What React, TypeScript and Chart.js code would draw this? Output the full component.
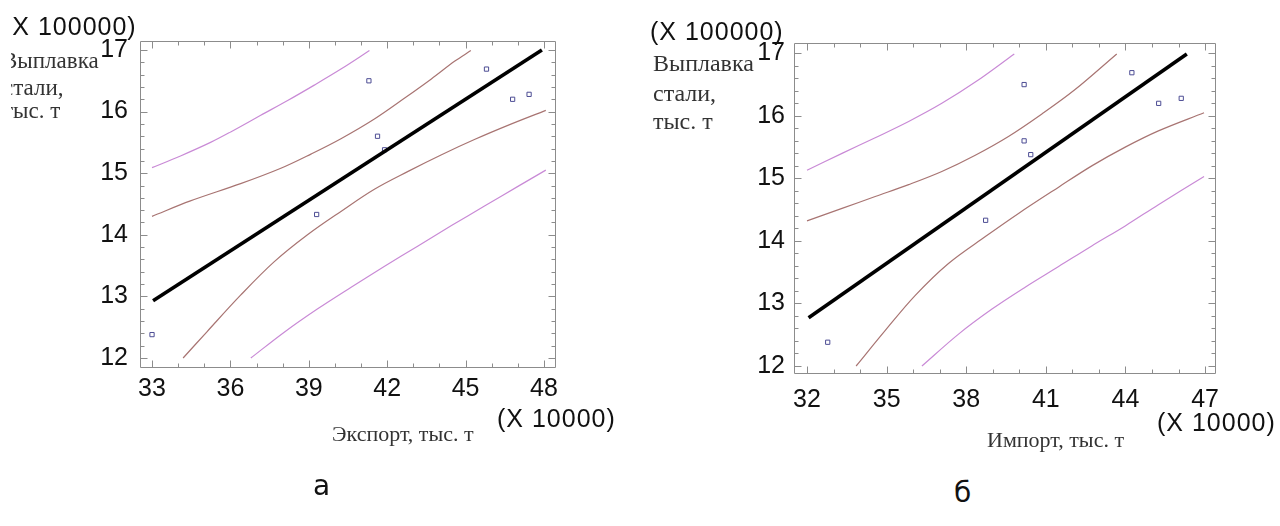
import React, { useEffect, useRef } from "react";
import { Chart, registerables } from "chart.js";

Chart.register(...registerables);

// Steel output, ×100000 t (same observations in both panels)
const steelOutput = [12.38, 14.33, 16.5, 15.6, 15.38, 16.69, 16.2, 16.28];
// Export, ×10000 t
const exportVolume = [33.0, 39.3, 41.3, 41.63, 41.9, 45.8, 46.8, 47.43];
// Import, ×10000 t
const importVolume = [32.78, 38.73, 40.18, 40.18, 40.43, 44.24, 45.25, 46.1];

// Fitted regression lines
const exportFitX = [33.04, 47.92];
const exportFitY = [12.93, 17.0];
const importFitX = [32.06, 46.31];
const importFitY = [12.77, 16.99];

// Panel "а": prediction limits (outer) and confidence limits (inner)
const exportPredUpperX = [33, 34.09, 35.24, 36.01, 37.16, 38.19, 39.21, 40.23, 41.32];
const exportPredUpperY = [15.09, 15.28, 15.5, 15.67, 15.94, 16.18, 16.43, 16.69, 16.99];
const exportConfUpperX = [33, 34.47, 36.39, 37.93, 39.08, 40.23, 41.51, 42.67, 43.69, 44.59, 45.2];
const exportConfUpperY = [14.3, 14.55, 14.83, 15.08, 15.31, 15.56, 15.88, 16.22, 16.53, 16.82, 16.99];
const exportConfLowerX = [34.19, 35.11, 36.39, 37.67, 38.95, 40.23, 41.51, 42.8, 44.08, 45.36, 46.64, 48.07];
const exportConfLowerY = [12.0, 12.43, 13.02, 13.56, 14.0, 14.38, 14.74, 15.03, 15.3, 15.55, 15.78, 16.02];
const exportPredLowerX = [36.78, 38.06, 39.34, 40.62, 41.9, 43.18, 44.46, 45.74, 47.02, 48.07];
const exportPredLowerY = [12.0, 12.42, 12.8, 13.15, 13.49, 13.82, 14.15, 14.47, 14.79, 15.05];

// Panel "б": prediction limits (outer) and confidence limits (inner)
const importPredUpperX = [32, 33.32, 34.57, 35.83, 37.08, 38.34, 39.81];
const importPredUpperY = [15.13, 15.4, 15.65, 15.91, 16.2, 16.54, 16.99];
const importConfUpperX = [32, 33.32, 34.57, 35.83, 37.08, 38.34, 39.59, 40.85, 42.1, 43.67];
const importConfUpperY = [14.32, 14.52, 14.71, 14.9, 15.11, 15.37, 15.67, 16.03, 16.42, 16.99];
const importConfLowerX = [33.85, 34.95, 36.08, 37.33, 38.72, 39.97, 41.48, 42.73, 43.99, 45.24, 46.96];
const importConfLowerY = [12.0, 12.57, 13.13, 13.64, 14.07, 14.44, 14.86, 15.2, 15.5, 15.76, 16.05];
const importPredLowerX = [36.33, 37.71, 38.97, 40.22, 41.48, 42.73, 43.99, 45.24, 46.96];
const importPredLowerY = [12.0, 12.51, 12.91, 13.26, 13.59, 13.92, 14.24, 14.58, 15.03];

// Axis tick labels and ranges
const exportTicks = [33, 36, 39, 42, 45, 48];
const importTicks = [32, 35, 38, 41, 44, 47];
const steelTicks = [12, 13, 14, 15, 16, 17];
const exportRange = [32.54, 48.46];
const importRange = [31.51, 47.41];
const steelRangeA = [11.838, 17.146];
const steelRangeB = [11.872, 17.165];

const PURPLE = "#c98ad6";
const BROWN = "#a87472";
const MARKER = "#4d4d94";
const SANS = '"Liberation Sans", Arial, sans-serif';
const SERIF = '"Liberation Serif", "Times New Roman", serif';
const CAPTION = '"DejaVu Sans", Verdana, sans-serif';

const zip = (xs: number[], ys: number[]) => xs.map((x, i) => ({ x, y: ys[i] }));

function steps(from: number, to: number, step: number) {
  const out: number[] = [];
  for (let i = 0; from + i * step <= to + 1e-9; i++) out.push(+(from + i * step).toFixed(3));
  return out;
}

// Box frame with inward major/minor tick marks on all four sides
const framePlugin = {
  id: "frame",
  beforeDatasetsDraw(chart: any, _args: any, o: any) {
    const { ctx, chartArea: a } = chart;
    const sx = chart.scales.x;
    const sy = chart.scales.y;
    const L = Math.round(a.left) + 0.5;
    const R = Math.round(a.right) - 0.5;
    const T = Math.round(a.top) + 0.5;
    const B = Math.round(a.bottom) - 0.5;
    ctx.save();
    ctx.strokeStyle = "#8c8c8c";
    ctx.lineWidth = 1;
    ctx.beginPath();
    ctx.rect(L, T, R - L, B - T);
    const isMajor = (list: number[], v: number) => list.some((m) => Math.abs(m - v) < 1e-6);
    for (const v of o.xMinor) {
      const px = Math.round(sx.getPixelForValue(v)) + 0.5;
      const len = isMajor(o.xMajor, v) ? 7 : 4;
      ctx.moveTo(px, B);
      ctx.lineTo(px, B - len);
      ctx.moveTo(px, T);
      ctx.lineTo(px, T + len);
    }
    for (const v of o.yMinor) {
      const py = Math.round(sy.getPixelForValue(v)) + 0.5;
      const len = isMajor(o.yMajor, v) ? 7 : 4;
      ctx.moveTo(L, py);
      ctx.lineTo(L + len, py);
      ctx.moveTo(R, py);
      ctx.lineTo(R - len, py);
    }
    ctx.stroke();
    ctx.restore();
  },
};

type Panel = {
  xs: number[];
  fitX: number[];
  fitY: number[];
  bands: { x: number[]; y: number[]; color: string }[];
  xRange: number[];
  yRange: number[];
  xTicks: number[];
  padding: { left: number; top: number; right: number; bottom: number };
  yWidth: number;
  xLabelPad: number;
  yLabelPad: number;
};

function makeChart(canvas: HTMLCanvasElement, p: Panel) {
  const band = (b: { x: number[]; y: number[]; color: string }) => ({
    data: zip(b.x, b.y),
    showLine: true,
    borderColor: b.color,
    borderWidth: 1.2,
    pointRadius: 0,
    tension: 0.35,
    fill: false,
  });
  const tickFont = { family: SANS, size: 25 };
  return new Chart(canvas, {
    type: "scatter",
    data: {
      datasets: [
        {
          data: zip(p.fitX, p.fitY),
          showLine: true,
          borderColor: "#000",
          borderWidth: 3.6,
          pointRadius: 0,
          fill: false,
        },
        {
          data: zip(p.xs, steelOutput),
          pointStyle: "rect",
          pointRadius: 3,
          borderWidth: 1,
          borderColor: MARKER,
          backgroundColor: "rgba(255,255,255,0)",
          showLine: false,
        },
        ...p.bands.map(band),
      ] as any,
    },
    options: {
      animation: false,
      responsive: false,
      events: [],
      layout: { padding: p.padding },
      plugins: {
        legend: { display: false },
        tooltip: { enabled: false },
        frame: {
          xMajor: p.xTicks,
          xMinor: steps(p.xTicks[0], p.xTicks[p.xTicks.length - 1], 1),
          yMajor: steelTicks,
          yMinor: steps(steelTicks[0], steelTicks[steelTicks.length - 1], 0.2),
        },
      } as any,
      scales: {
        x: {
          type: "linear",
          min: p.xRange[0],
          max: p.xRange[1],
          grid: { display: false, drawTicks: false },
          border: { display: false },
          afterBuildTicks: (s: any) => {
            s.ticks = p.xTicks.map((value) => ({ value }));
          },
          afterFit: (s: any) => {
            s.height = 40;
          },
          ticks: {
            padding: p.xLabelPad,
            color: "#111",
            font: tickFont,
            autoSkip: false,
            maxRotation: 0,
            callback: (v: any) => String(v),
          },
        },
        y: {
          type: "linear",
          min: p.yRange[0],
          max: p.yRange[1],
          grid: { display: false, drawTicks: false },
          border: { display: false },
          afterBuildTicks: (s: any) => {
            s.ticks = steelTicks.map((value) => ({ value }));
          },
          afterFit: (s: any) => {
            s.width = p.yWidth;
          },
          ticks: {
            padding: p.yLabelPad,
            color: "#111",
            font: tickFont,
            autoSkip: false,
            callback: (v: any) => String(v),
          },
        },
      } as any,
    },
    plugins: [framePlugin as any],
  });
}

function Txt(props: {
  x: number;
  baseline: number;
  size: number;
  family: string;
  color?: string;
  spacing?: number;
  children: React.ReactNode;
}) {
  const k = props.family === SERIF ? 0.8375 : 0.8465;
  return (
    <div
      style={{
        position: "absolute",
        left: props.x,
        top: props.baseline - k * props.size,
        fontFamily: props.family,
        fontSize: props.size,
        lineHeight: `${props.size}px`,
        whiteSpace: "nowrap",
        color: props.color || "#111",
        letterSpacing: props.spacing ? `${props.spacing}px` : undefined,
      }}
    >
      {props.children}
    </div>
  );
}

export default function App() {
  const leftRef = useRef<HTMLCanvasElement>(null);
  const rightRef = useRef<HTMLCanvasElement>(null);

  useEffect(() => {
    const a = makeChart(leftRef.current!, {
      xs: exportVolume,
      fitX: exportFitX,
      fitY: exportFitY,
      bands: [
        { x: exportPredUpperX, y: exportPredUpperY, color: PURPLE },
        { x: exportConfUpperX, y: exportConfUpperY, color: BROWN },
        { x: exportConfLowerX, y: exportConfLowerY, color: BROWN },
        { x: exportPredLowerX, y: exportPredLowerY, color: PURPLE },
      ],
      xRange: exportRange,
      yRange: steelRangeA,
      xTicks: exportTicks,
      padding: { left: 0, top: 41, right: 64, bottom: 62 },
      yWidth: 140,
      xLabelPad: 6,
      yLabelPad: 12,
    });
    const b = makeChart(rightRef.current!, {
      xs: importVolume,
      fitX: importFitX,
      fitY: importFitY,
      bands: [
        { x: importPredUpperX, y: importPredUpperY, color: PURPLE },
        { x: importConfUpperX, y: importConfUpperY, color: BROWN },
        { x: importConfLowerX, y: importConfLowerY, color: BROWN },
        { x: importPredLowerX, y: importPredLowerY, color: PURPLE },
      ],
      xRange: importRange,
      yRange: steelRangeB,
      xTicks: importTicks,
      padding: { left: 0, top: 43, right: 64, bottom: 56 },
      yWidth: 154,
      xLabelPad: 11,
      yLabelPad: 9,
    });
    return () => {
      a.destroy();
      b.destroy();
    };
  }, []);

  return (
    <div
      style={{
        position: "absolute",
        left: 0,
        top: 0,
        width: 1280,
        height: 526,
        background: "#fff",
        overflow: "hidden",
      }}
    >
      <div
        style={{
          position: "absolute",
          left: 0,
          top: 0,
          width: 640,
          height: 470,
          clipPath: "inset(0 0 0 11px)",
        }}
      >
        <canvas ref={leftRef} width={620} height={470} style={{ position: "absolute", left: 0, top: 0 }} />
        <Txt x={3} baseline={35} size={25} family={SANS} spacing={1}>(X 100000)</Txt>
        <Txt x={2} baseline={68} size={23} family={SERIF} color="#333">Выплавка</Txt>
        <Txt x={3} baseline={95} size={23} family={SERIF} color="#333">стали,</Txt>
        <Txt x={3} baseline={118} size={23} family={SERIF} color="#333">тыс. т</Txt>
        <Txt x={332} baseline={441} size={22} family={SERIF} color="#333">Экспорт, тыс. т</Txt>
        <Txt x={497} baseline={427} size={25} family={SANS} spacing={1}>(X 10000)</Txt>
      </div>
      <canvas ref={rightRef} width={640} height={470} style={{ position: "absolute", left: 640, top: 0 }} />
      <Txt x={650} baseline={40} size={25} family={SANS} spacing={1}>(X 100000)</Txt>
      <Txt x={653} baseline={71} size={24} family={SERIF} color="#333">Выплавка</Txt>
      <Txt x={653} baseline={101} size={24} family={SERIF} color="#333">стали,</Txt>
      <Txt x={653} baseline={129} size={24} family={SERIF} color="#333">тыс. т</Txt>
      <Txt x={987} baseline={447} size={22} family={SERIF} color="#333">Импорт, тыс. т</Txt>
      <Txt x={1157} baseline={431} size={25} family={SANS} spacing={1}>(X 10000)</Txt>
      <Txt x={313} baseline={496} size={28} family={CAPTION}>а</Txt>
      <Txt x={954} baseline={503} size={28} family={CAPTION}>б</Txt>
    </div>
  );
}
